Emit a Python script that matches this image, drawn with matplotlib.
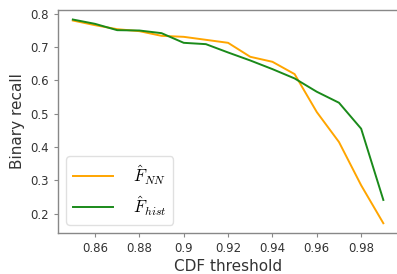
import numpy as np
import matplotlib
matplotlib.use("Agg")
import matplotlib.pyplot as plt

plt.rcParams["mathtext.fontset"] = "cm"

thresholds = [0.85, 0.86, 0.87, 0.88, 0.89, 0.90, 0.91, 0.92, 0.93, 0.94, 0.95, 0.96, 0.97, 0.98, 0.99]
recall_nn = [0.780, 0.766, 0.754, 0.748, 0.734, 0.731, 0.722, 0.713, 0.671, 0.656, 0.619, 0.505, 0.415, 0.285, 0.171]
recall_hist = [0.783, 0.770, 0.751, 0.750, 0.742, 0.713, 0.709, 0.684, 0.660, 0.634, 0.606, 0.566, 0.533, 0.455, 0.241]

fig = plt.figure(figsize=(3.97, 2.74), dpi=100)
ax = fig.add_axes([0.146, 0.150, 0.857, 0.814])

ax.plot(thresholds, recall_nn, color="orange", lw=1.4, label=r"$\hat{F}_{NN}$")
ax.plot(thresholds, recall_hist, color="#1a8a1a", lw=1.4, label=r"$\hat{F}_{hist}$")

ax.set_xlim(0.8433, 0.9967)
ax.set_ylim(0.142, 0.812)
ax.set_xticks([0.86, 0.88, 0.9, 0.92, 0.94, 0.96, 0.98])
ax.set_xticklabels(["0.86", "0.88", "0.9", "0.92", "0.94", "0.96", "0.98"])
ax.set_yticks([0.2, 0.3, 0.4, 0.5, 0.6, 0.7, 0.8])

for s in ax.spines.values():
    s.set_color("#888888")
    s.set_linewidth(1.0)
ax.spines["right"].set_visible(False)
ax.tick_params(colors="#333333", labelsize=8.5, length=3, color="#888888")

ax.set_xlabel("CDF threshold", fontsize=11, color="#333333", labelpad=3)
ax.set_ylabel("Binary recall", fontsize=11, color="#333333", labelpad=4)

ax.legend(loc="lower left", fontsize=12, handlelength=2.4, borderpad=0.4,
          labelspacing=0.45, handletextpad=1.2, framealpha=0.9, edgecolor="#dddddd")

fig.savefig("out.png", dpi=100)
